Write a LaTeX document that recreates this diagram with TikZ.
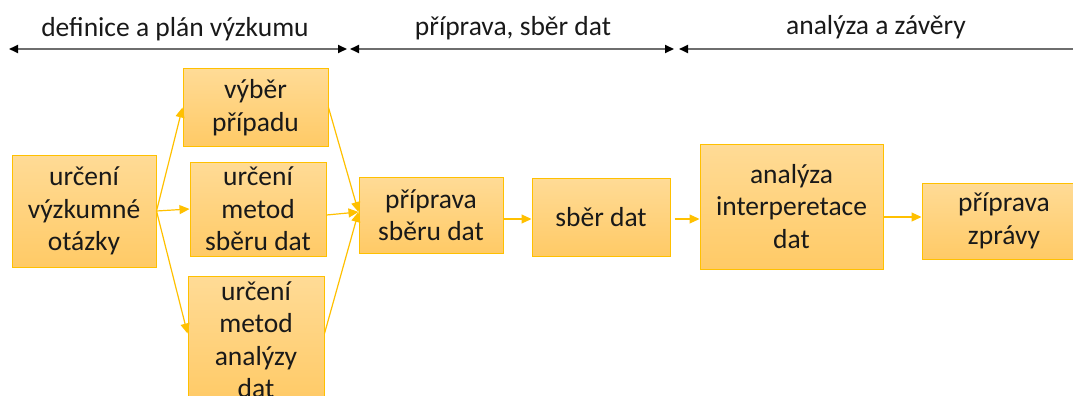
\documentclass[tikz,border=0pt]{standalone}
\usepackage{fontspec}
\setmainfont{Carlito}
\usetikzlibrary{arrows.meta}
\definecolor{gold}{HTML}{FFC000}
\definecolor{boxtop}{HTML}{FFDB96}
\definecolor{boxbot}{HTML}{FFCA66}
\definecolor{phaseline}{HTML}{6E6E6E}
\tikzset{
  stepbox/.style={draw=gold, line width=1pt, top color=boxtop, bottom color=boxbot,
    align=center, inner sep=0pt, font=\fontsize{27.5}{32.5}\selectfont, text=black!90},
  flow/.style={draw=gold, line width=1.2pt, -{Triangle[length=10pt,width=9pt]}},
  phase/.style={draw=phaseline, line width=2pt, {Triangle[length=9pt,width=8pt,fill=black,color=black]}-{Triangle[length=9pt,width=8pt,fill=black,color=black]}},
  phaselabel/.style={font=\fontsize{27.5}{32}\selectfont, text=black!90},
}
\begin{document}
\begin{tikzpicture}[x=1pt,y=-1pt]
\useasboundingbox (0,0) rectangle (1073,396);
\clip (0,0) rectangle (1073,396);

% phase markers along the top
\coordinate (p1l) at (9,49);   \coordinate (p1r) at (347,49);
\coordinate (p2l) at (350,49); \coordinate (p2r) at (674,49);
\coordinate (p3l) at (679,49); \coordinate (p3r) at (1110,49);
\draw[phase] (p1l) -- (p1r);
\draw[phase] (p2l) -- (p2r);
\draw[phase] (p3l) -- (p3r);
\node[phaselabel] (h1) at (175,29) {definice a plán výzkumu};
\node[phaselabel] (h2) at (513,28) {příprava, sběr dat};
\node[phaselabel] (h3) at (876,27) {analýza a závěry};

% process steps
\node[stepbox, minimum width=144pt, minimum height=112pt] (otazka) at (84,211) {určení\\výzkumné\\otázky};
\node[stepbox, minimum width=145pt, minimum height=77pt] (pripad) at (255.5,107.5) {výběr\\případu};
\node[stepbox, minimum width=136pt, minimum height=94pt] (metsber) at (258,209) {určení\\metod\\sběru dat};
\node[stepbox, minimum width=136pt, minimum height=127pt] (metanal) at (256,339.5) {určení\\metod\\analýzy\\dat};
\node[stepbox, minimum width=144pt, minimum height=76pt] (pripsber) at (431,215) {příprava\\sběru dat};
\node[stepbox, minimum width=138pt, minimum height=78pt] (sber) at (601,217) {sběr dat};
\node[stepbox, minimum width=183pt, minimum height=125pt] (analyza) at (791.5,206.5) {analýza\\interperetace\\dat};
\node[stepbox, minimum width=164pt, minimum height=76pt] (zprava) at (1004,221) {příprava\\zprávy};

% connectors
\draw[flow] (otazka.east) -- (pripad.west);
\draw[flow] (otazka.east) -- (metsber.west);
\draw[flow] (otazka.east) -- ([yshift=6pt]metanal.west);
\draw[flow] (pripad.east) -- ([yshift=3pt]pripsber.west);
\draw[flow] ([yshift=-6pt]metsber.east) -- ([yshift=3pt]pripsber.west);
\draw[flow] ([yshift=6pt]metanal.east) -- ([yshift=3pt]pripsber.west);
\draw[flow] ([yshift=-4pt]pripsber.east) -- ([yshift=-2pt]sber.west);
\draw[flow] ([xshift=4pt,yshift=-2pt]sber.east) -- ([yshift=-12.5pt]analyza.west);
\draw[flow] ([yshift=-10.5pt]analyza.east) -- ([yshift=4pt]zprava.west);
\end{tikzpicture}
\end{document}
